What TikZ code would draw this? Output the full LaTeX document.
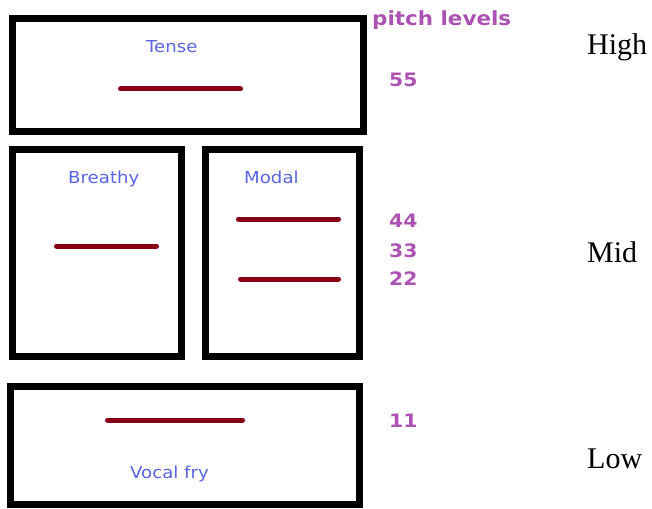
\documentclass[tikz,border=0pt]{standalone}
\usepackage{fontspec}
\usepackage{graphicx}
\setmainfont{Liberation Serif}
\newfontfamily\lblfont{DejaVu Sans}
\usetikzlibrary{positioning}
\definecolor{lblblue}{RGB}{88,100,225}
\definecolor{pitchpurple}{RGB}{172,82,178}
\definecolor{tonered}{RGB}{135,0,22}
\newcommand{\wide}[1]{\scalebox{1.1}[1]{#1}}
\tikzset{phon/.style={draw,line width=7pt,inner sep=0pt},
  phonlbl/.style={text=lblblue,font=\lblfont\fontsize{16.5}{19}\selectfont,inner sep=0pt,anchor=base west},
  tone/.style={tonered,line width=5pt,line cap=round},
  pitch/.style={text=pitchpurple,font=\lblfont\bfseries\fontsize{18.5}{21}\selectfont,inner sep=0pt,anchor=base west},
  register/.style={font=\fontsize{30}{34}\selectfont,inner sep=0pt,anchor=base west}}

\begin{document}
\begin{tikzpicture}[x=1pt,y=-1pt]
\useasboundingbox(0,0)rectangle(652,508);
\node[phon,minimum width=351pt,minimum height=113pt](tense)at(188,75){};\node[phonlbl](tenselbl)at(146,53){\wide{Tense}};\draw[tone](120.5,89)--(240.5,89);
\node[phon,minimum width=169pt,minimum height=207pt](breathy)at(97,253){};\node[phonlbl](breathylbl)at(68,183){\wide{Breathy}};\draw[tone](56.5,246)--(156.5,246);
\node[phon,minimum width=154pt,minimum height=207pt](modal)at(282.5,253){};\node[phonlbl](modallbl)at(244,183){\wide{Modal}};\draw[tone](238.5,219)--(338.5,219);\draw[tone](240.5,279)--(338.5,279);
\node[phon,minimum width=349pt,minimum height=118pt](fry)at(185,445.5){};\node[phonlbl](frylbl)at(130,478){\wide{Vocal fry}};\draw[tone](107.5,420)--(242.5,420);
\node[pitch,font=\lblfont\bfseries\fontsize{19.5}{22}\selectfont](levels)at(372,26){\wide{pitch levels}};
\node[pitch](p55)at(389,87){\wide{55}};\node[pitch](p44)at(389,227){\wide{44}};\node[pitch](p33)at(389,257){\wide{33}};\node[pitch](p22)at(389,285){\wide{22}};\node[pitch](p11)at(389,427){\wide{11}};
\node[register](high)at(587,55){High};\node[register](mid)at(587,262){Mid};\node[register](low)at(587,468){Low};
\end{tikzpicture}
\end{document}
